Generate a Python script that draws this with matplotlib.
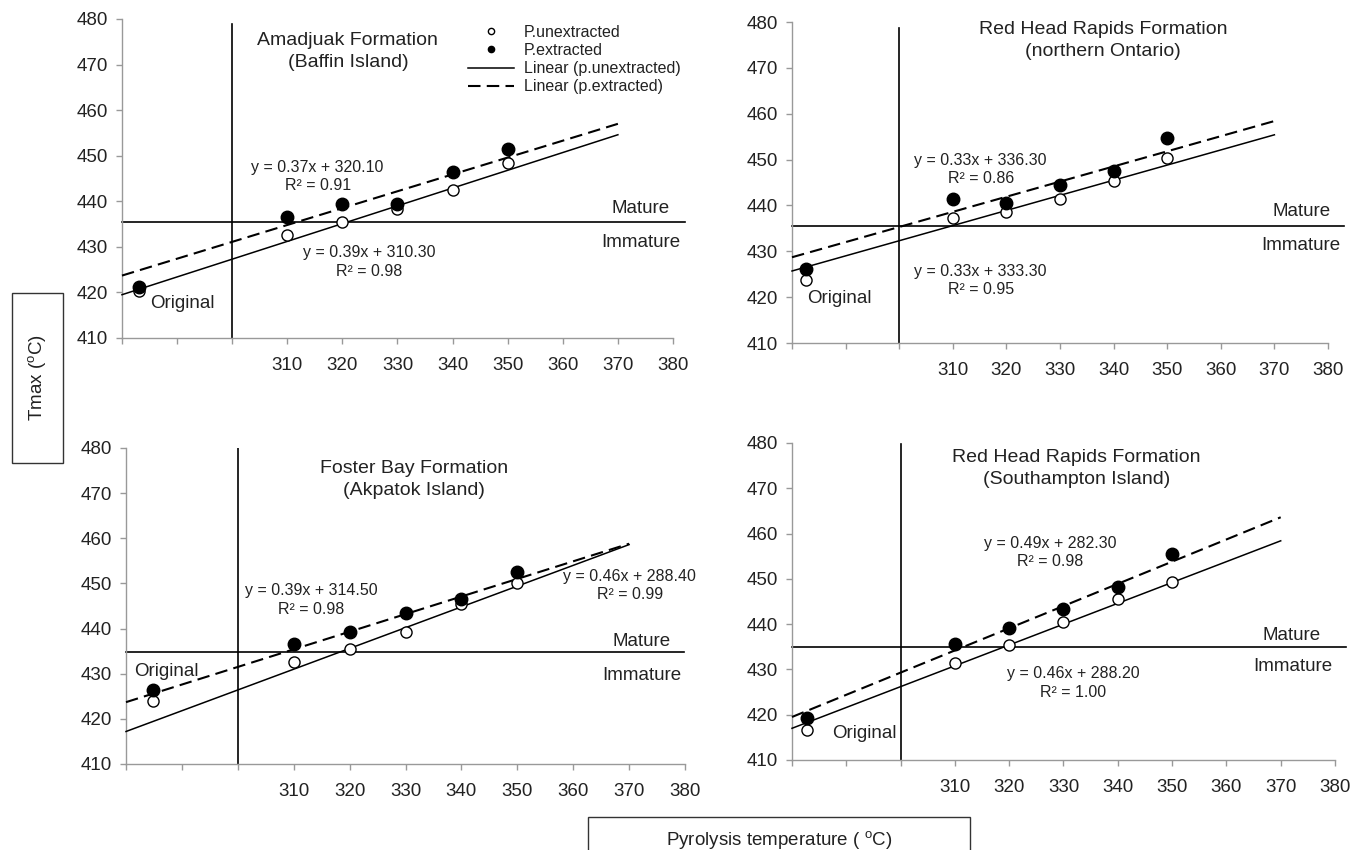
import numpy as np
import matplotlib
matplotlib.use("Agg")
import matplotlib.pyplot as plt
from matplotlib.lines import Line2D
from matplotlib.patches import Rectangle

plt.rcParams['font.family'] = ['Liberation Sans', 'DejaVu Sans']
plt.rcParams['mathtext.fontset'] = 'custom'
plt.rcParams['mathtext.rm'] = 'Liberation Sans'
plt.rcParams['mathtext.it'] = 'Liberation Sans'

# ---------------- data ----------------
titles = ["Amadjuak Formation\n(Baffin Island)",
          "Red Head Rapids Formation\n(northern Ontario)",
          "Foster Bay Formation\n(Akpatok Island)",
          "Red Head Rapids Formation\n(Southampton Island)"]

pyro_temps = [310, 320, 330, 340, 350]
original_x = [283.1, 282.7, 284.9, 282.7]

unext_1 = [420.3, 432.7, 435.5, 438.3, 442.5, 448.3]
ext_1 = [421.2, 436.5, 439.4, 439.4, 446.4, 451.5]
unext_2 = [423.7, 437.3, 438.5, 441.3, 445.4, 450.3]
ext_2 = [426.2, 441.3, 440.6, 444.4, 447.5, 454.6]
unext_3 = [423.9, 432.5, 435.4, 439.3, 445.4, 450.2]
ext_3 = [426.4, 436.5, 439.3, 443.5, 446.5, 452.6]
unext_4 = [416.6, 431.5, 435.3, 440.4, 445.5, 449.2]
ext_4 = [419.2, 435.6, 439.2, 443.4, 448.3, 455.5]

# trendline coefficients (slope, intercept) and R^2
unext_fit = [(0.39, 310.30), (0.33, 333.30), (0.46, 288.40), (0.46, 288.20)]
ext_fit = [(0.37, 320.10), (0.33, 336.30), (0.39, 314.50), (0.49, 282.30)]
unext_r2 = [0.98, 0.95, 0.99, 1.00]
ext_r2 = [0.91, 0.86, 0.98, 0.98]
trend_range = [280, 370]

maturity_tmax = [435.5, 435.5, 434.7, 435.0]
boundary_x = 300

x_ticks = list(range(280, 390, 10))
x_ticklabels = ["" if t < 310 else str(t) for t in x_ticks]
y_ticks = list(range(410, 490, 10))

unext_all = [unext_1, unext_2, unext_3, unext_4]
ext_all = [ext_1, ext_2, ext_3, ext_4]

# ---------------- layout ----------------
W, H = 1356, 850
fig = plt.figure(figsize=(W / 100, H / 100), dpi=100)

def px_axes(l, r, t, b):
    return [l / W, 1 - b / H, (r - l) / W, (b - t) / H]

rects = [px_axes(122, 673, 19, 338),
         px_axes(792, 1328, 22, 343),
         px_axes(126, 685, 448, 764),
         px_axes(792, 1335, 443, 760)]

title_pos = [(321, 472.9), (338, 476.0), (331.5, 473.1), (332.4, 474.4)]
eq_ext_pos = [(315.5, 445.45), (315.2, 447.8), (313.2, 446.35), (327.6, 455.8)]
eq_unext_pos = [(324.8, 426.7), (315.2, 423.6), (370.1, 449.55), (331.8, 426.95)]
mature_pos = [(379.3, 438.5), (380.4, 438.7), (377.4, 437.1), (377.4, 437.6)]
immature_pos = [(381.3, 431.0), (382.3, 431.2), (379.3, 429.5), (379.5, 430.6)]
original_pos = [(290.9, 417.6), (288.8, 419.6), (287.3, 430.5), (293.3, 415.9)]
hline_end = [382.2, 383.0, 379.9, 382.0]
vline_top = [478.9, 478.8, 480.0, 479.8]

spine_col = '#999999'
txt_col = '#222222'

for i in range(4):
    ax = fig.add_axes(rects[i])
    ax.set_xlim(280, 380)
    ax.set_ylim(410, 480)
    for s in ['top', 'right']:
        ax.spines[s].set_visible(False)
    for s in ['left', 'bottom']:
        ax.spines[s].set_color(spine_col)
        ax.spines[s].set_linewidth(1.0)
    ax.set_xticks(x_ticks)
    ax.set_xticklabels(x_ticklabels)
    ax.set_yticks(y_ticks)
    ax.tick_params(axis='both', direction='out', length=4, width=1,
                   color=spine_col, labelsize=13.5, labelcolor=txt_col)
    ax.tick_params(axis='x', pad=10)
    ax.tick_params(axis='y', pad=6)
    ax.patch.set_alpha(0)

    xs = [original_x[i]] + pyro_temps
    ax.plot(xs, unext_all[i], linestyle='none', marker='o', markersize=8,
            markerfacecolor='white', markeredgecolor='black', markeredgewidth=1.0,
            zorder=4)
    ax.plot(xs, ext_all[i], linestyle='none', marker='o', markersize=9,
            markerfacecolor='black', markeredgecolor='black', zorder=5)

    tx = np.array(trend_range, dtype=float)
    m, c = unext_fit[i]
    ax.plot(tx, m * tx + c, color='black', lw=1.1, zorder=3, clip_on=False)
    m2, c2 = ext_fit[i]
    ax.plot(tx, m2 * tx + c2, color='black', lw=1.5, dashes=(6, 3), zorder=3,
            clip_on=False)

    ax.plot([280, hline_end[i]], [maturity_tmax[i]] * 2, color='black', lw=1.2,
            clip_on=False, zorder=2)
    ax.plot([boundary_x, boundary_x], [410, vline_top[i]], color='black', lw=1.2,
            zorder=2)

    ax.text(*title_pos[i], titles[i], ha='center', va='center', fontsize=14,
            color=txt_col, linespacing=1.4)
    ax.text(*eq_ext_pos[i], f"y = {m2:.2f}x + {c2:.2f}\nR² = {ext_r2[i]:.2f}",
            ha='center', va='center', fontsize=11.5, color=txt_col,
            linespacing=1.3, clip_on=False)
    ax.text(*eq_unext_pos[i], f"y = {m:.2f}x + {c:.2f}\nR² = {unext_r2[i]:.2f}",
            ha='center', va='center', fontsize=11.5, color=txt_col,
            linespacing=1.3, clip_on=False)
    ax.text(*mature_pos[i], "Mature", ha='right', va='center', fontsize=13.5,
            color=txt_col, clip_on=False)
    ax.text(*immature_pos[i], "Immature", ha='right', va='center', fontsize=13.5,
            color=txt_col, clip_on=False)
    ax.text(*original_pos[i], "Original", ha='center', va='center', fontsize=13.5,
            color=txt_col)

    if i == 0:
        handles = [
            Line2D([], [], linestyle='none', marker='o', markersize=4.5,
                   markerfacecolor='white', markeredgecolor='black'),
            Line2D([], [], linestyle='none', marker='o', markersize=4.5,
                   markerfacecolor='black', markeredgecolor='black'),
            Line2D([], [], color='black', lw=1.1),
            Line2D([], [], color='black', lw=1.5, dashes=(6, 3)),
        ]
        labels = ["P.unextracted", "P.extracted", "Linear (p.unextracted)",
                  "Linear (p.extracted)"]
        leg = ax.legend(handles, labels, loc='upper left',
                        bbox_to_anchor=(0.628, 0.982), frameon=False,
                        fontsize=11.5, handlelength=2.9, handletextpad=0.6,
                        labelspacing=0.2, borderpad=0, borderaxespad=0)
        for t in leg.get_texts():
            t.set_color(txt_col)

# axis title boxes
def add_box(l, t, r, b):
    fig.patches.append(Rectangle((l / W, 1 - b / H), (r - l) / W, (b - t) / H,
                                 transform=fig.transFigure, fill=False,
                                 edgecolor='#333333', lw=1.0, clip_on=False))

add_box(12, 293, 63, 463)
fig.text(37 / W, 1 - 378 / H, r'Tmax ($^{o}$C)', rotation=90, ha='center',
         va='center', fontsize=13.5, color=txt_col)
add_box(588, 817, 970, 852)
fig.text(779 / W, 1 - 840 / H, r'Pyrolysis temperature ( $^{o}$C)', ha='center',
         va='center', fontsize=13.5, color=txt_col)

fig.savefig("out.png", dpi=100)
